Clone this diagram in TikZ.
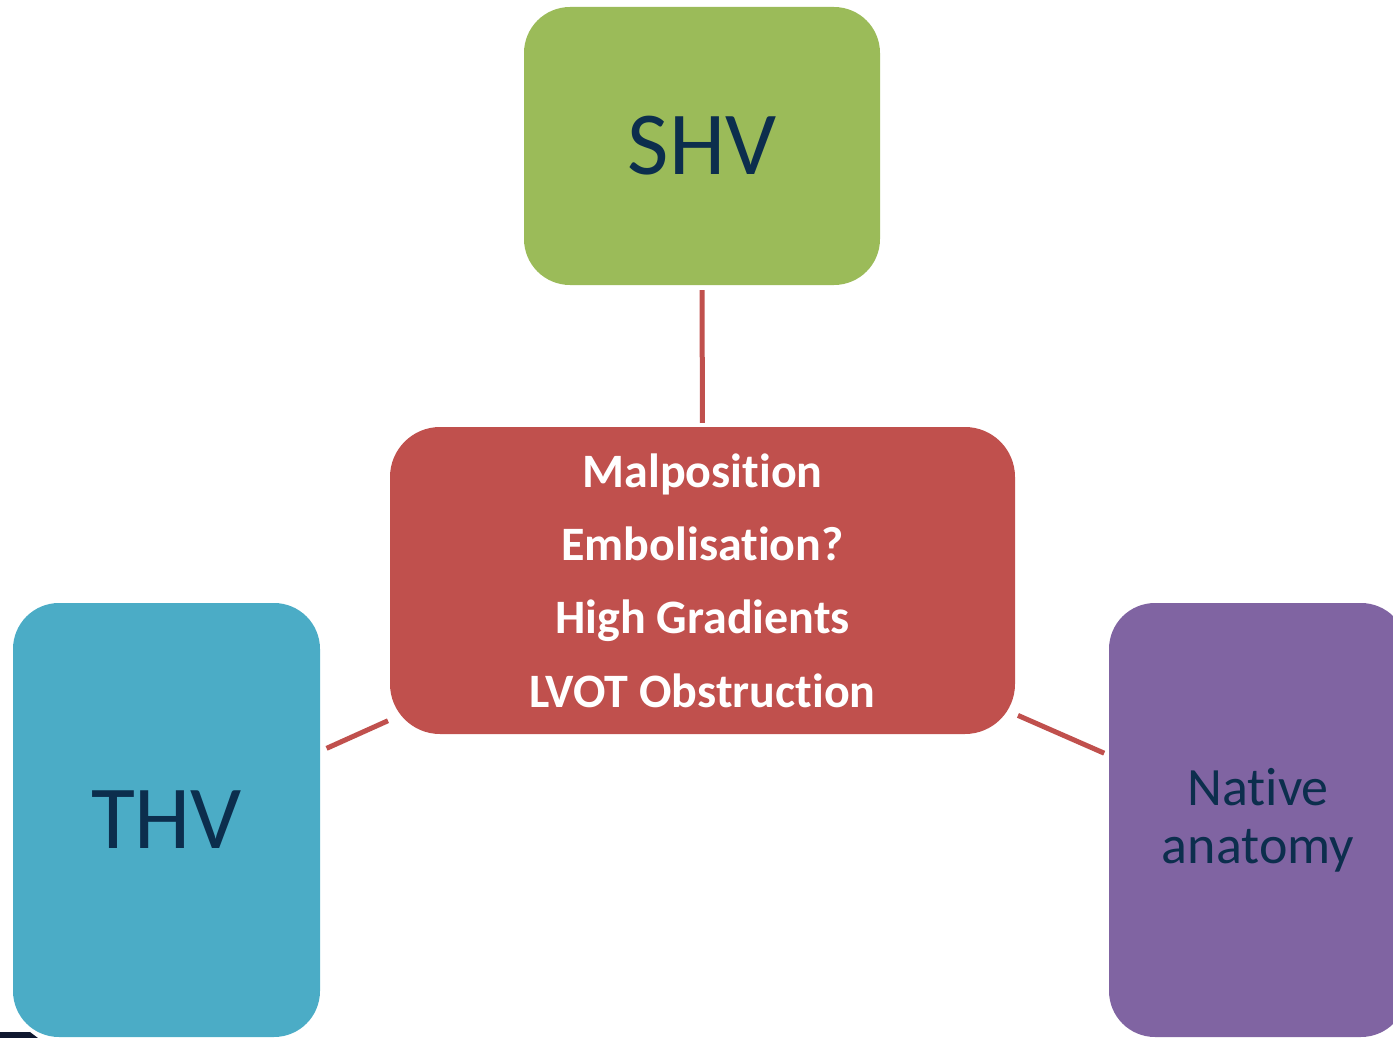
\documentclass[tikz,border=0pt]{standalone}
\usepackage{fontspec}
\setmainfont[Ligatures={NoCommon}]{Carlito}
\definecolor{cgreen}{HTML}{9BBB59}
\definecolor{cred}{HTML}{C0504D}
\definecolor{cblue}{HTML}{4BACC6}
\definecolor{cpurple}{HTML}{8064A2}
\definecolor{ctext}{HTML}{0C2E4D}
\definecolor{cdark}{HTML}{101830}
\begin{document}
\begin{tikzpicture}[x=1pt,y=-1pt,
  box/.style={rectangle, rounded corners=46pt, inner sep=0pt, draw=none, align=center},
  link/.style={draw=cred, line width=5pt}]
\useasboundingbox (0,0) rectangle (1393,1038);
\clip (0,0) rectangle (1393,1038);
\node[box, fill=cgreen, minimum width=356pt, minimum height=278pt, text=ctext,
      font=\fontsize{90}{100}\selectfont] (shv) at (702,146) {SHV};
\node[box, fill=cred, rounded corners=50pt, minimum width=625pt, minimum height=307pt, text=white,
      font=\fontsize{48}{73.3}\selectfont\bfseries] (ctr) at (702.5,580.5)
      {Malposition\\Embolisation?\\High Gradients\\LVOT Obstruction};
\node[box, fill=cblue, minimum width=307pt, minimum height=434pt, text=ctext,
      font=\fontsize{90}{100}\selectfont] (thv) at (166.5,820) {THV};
\node[box, fill=cpurple, minimum width=298pt, minimum height=434pt, text=ctext,
      font=\fontsize{54}{58}\selectfont] (nat) at (1258,820) {Native\\anatomy};
\draw[link, shorten <=5pt, shorten >=4pt] (shv) -- (ctr);
\draw[link, shorten <=7pt, shorten >=2pt] (thv) -- (ctr);
\draw[link, shorten <=5pt, shorten >=3pt] (nat) -- (ctr);
\fill[cdark] (0,1032) -- (30,1032) -- (38,1038) -- (0,1038) -- cycle;
\end{tikzpicture}
\end{document}
